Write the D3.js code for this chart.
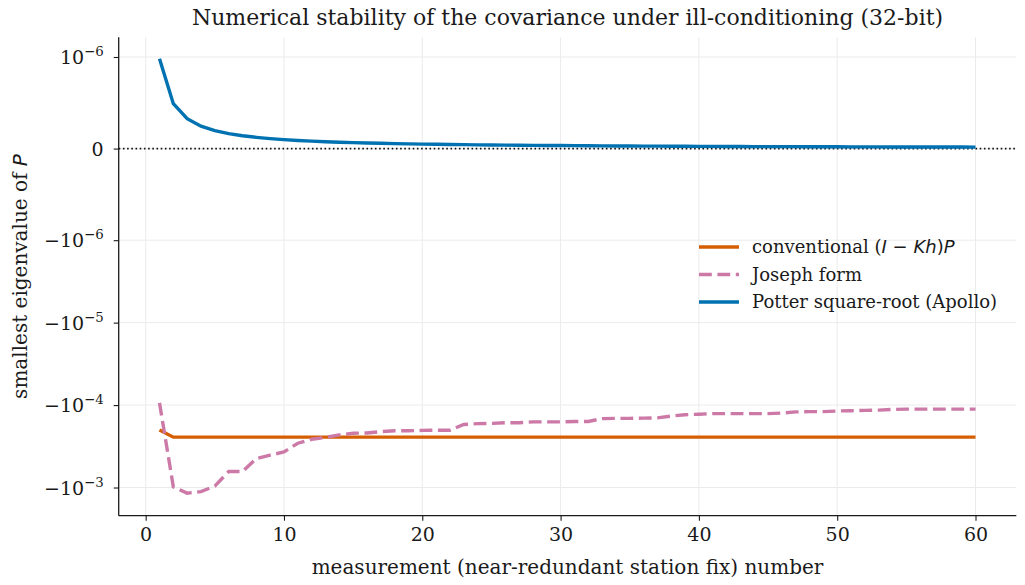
<!DOCTYPE html>
<html><head><meta charset="utf-8">
<script src="https://cdn.jsdelivr.net/npm/d3@7"></script>
<style>body{margin:0;background:#fff}svg{display:block}text{font-family:"DejaVu Serif",serif;fill:#1a1a1a}</style>
</head><body><svg id="c" width="1025" height="585"></svg>
<script>
const measurements = d3.range(1, 61);
const conventional = [-2.0e-4].concat(Array(59).fill(-2.45e-4));
const joseph = [-9.4e-5,-9.8e-4,-1.17e-3,-1.12e-3,-9.6e-4,-6.4e-4,-6.4e-4,-4.45e-4,-4.05e-4,-3.7e-4,
 -2.9e-4,-2.6e-4,-2.47e-4,-2.3e-4,-2.2e-4,-2.18e-4,-2.1e-4,-2.05e-4,-2.05e-4,-2.03e-4,
 -2.02e-4,-2.02e-4,-1.72e-4,-1.68e-4,-1.67e-4,-1.64e-4,-1.64e-4,-1.6e-4,-1.6e-4,-1.6e-4,
 -1.58e-4,-1.58e-4,-1.46e-4,-1.45e-4,-1.45e-4,-1.44e-4,-1.43e-4,-1.36e-4,-1.31e-4,-1.29e-4,
 -1.27e-4,-1.27e-4,-1.27e-4,-1.27e-4,-1.27e-4,-1.25e-4,-1.21e-4,-1.2e-4,-1.2e-4,-1.18e-4,
 -1.17e-4,-1.16e-4,-1.15e-4,-1.13e-4,-1.12e-4,-1.12e-4,-1.12e-4,-1.12e-4,-1.12e-4,-1.12e-4];
const potter = [9.8e-7,4.9e-7,3.27e-7,2.45e-7,1.96e-7,1.63e-7,1.4e-7,1.23e-7,1.09e-7,9.8e-8,
 8.9e-8,8.2e-8,7.5e-8,7.0e-8,6.5e-8,6.1e-8,5.8e-8,5.4e-8,5.2e-8,4.9e-8,
 4.7e-8,4.5e-8,4.3e-8,4.1e-8,3.9e-8,3.8e-8,3.6e-8,3.5e-8,3.4e-8,3.3e-8,
 3.2e-8,3.1e-8,3.0e-8,2.9e-8,2.8e-8,2.7e-8,2.65e-8,2.6e-8,2.5e-8,2.45e-8,
 2.4e-8,2.3e-8,2.3e-8,2.2e-8,2.2e-8,2.1e-8,2.1e-8,2.0e-8,2.0e-8,1.96e-8,
 1.9e-8,1.9e-8,1.85e-8,1.8e-8,1.8e-8,1.75e-8,1.7e-8,1.7e-8,1.66e-8,1.63e-8];
const xTicks = [0,10,20,30,40,50,60];
const yTicks = [1e-6, 0, -1e-6, -1e-5, -1e-4, -1e-3];
const yTickLabels = [["10","−6"],["0",""],["−10","−6"],["−10","−5"],["−10","−4"],["−10","−3"]];

const linthresh = 1e-6, linscaleAdj = 1/(1-0.1);
function symlog(v){ const a=Math.abs(v)/linthresh; return Math.sign(v)*(a<=1 ? a*linscaleAdj : linscaleAdj+Math.log10(a)); }

const L=118.7, R=1016.3, T=37.3, B=515.7;
const x = d3.scaleLinear().domain([-1.95, 62.95]).range([L, R]);
const yLin = d3.scaleLinear().domain([-4.453, 1.35]).range([B, T]);
const y = v => yLin(symlog(v));

const svg = d3.select("#c");
// grid
svg.append("g").selectAll("line").data(xTicks).join("line")
  .attr("x1",d=>x(d)).attr("x2",d=>x(d)).attr("y1",T).attr("y2",B)
  .attr("stroke","#ebebeb").attr("stroke-width",1);
svg.append("g").selectAll("line").data(yTicks).join("line")
  .attr("x1",L).attr("x2",R).attr("y1",d=>y(d)).attr("y2",d=>y(d))
  .attr("stroke","#ebebeb").attr("stroke-width",1);

// zero line
svg.append("line").attr("x1",L).attr("x2",R).attr("y1",y(0)).attr("y2",y(0))
  .attr("stroke","#111").attr("stroke-width",1.6).attr("stroke-dasharray","1.6,2.6");

const line = vals => d3.line().x((d,i)=>x(measurements[i])).y(d=>y(d))(vals);
svg.append("path").attr("d",line(conventional)).attr("fill","none").attr("stroke","#D55E00").attr("stroke-width",3.4);
svg.append("path").attr("d",line(joseph)).attr("fill","none").attr("stroke","#CC79A7").attr("stroke-width",3.4).attr("stroke-dasharray","12.8,5.6");
svg.append("path").attr("d",line(potter)).attr("fill","none").attr("stroke","#0072B2").attr("stroke-width",3.4);

// axes
const xAxis = svg.append("g").attr("transform",`translate(0,${B})`)
  .call(d3.axisBottom(x).tickValues(xTicks).tickSize(5).tickPadding(7).tickFormat(d3.format("d")));
xAxis.select(".domain").attr("d",`M${L},0H${R}`);
const yAxis = svg.append("g").attr("transform",`translate(${L},0)`)
  .call(d3.axisLeft(yLin).tickValues(yTicks.map(symlog)).tickSize(5).tickPadding(6).tickFormat(""));
yAxis.select(".domain").attr("d",`M0,${T}V${B}`);
[xAxis,yAxis].forEach(g=>{g.selectAll(".domain").attr("stroke","#1a1a1a").attr("stroke-width",1.3);
  g.selectAll(".tick line").attr("stroke","#1a1a1a").attr("stroke-width",1.1);});
xAxis.selectAll("text").attr("font-family","DejaVu Serif").attr("font-size",19).attr("fill","#1a1a1a");
yAxis.selectAll(".tick").each(function(d,i){
  const lab = yTickLabels[i];
  const t = d3.select(this).append("text").attr("x",-15).attr("y",0).attr("dy","0.35em").attr("text-anchor","end")
    .attr("font-size",19).attr("fill","#1a1a1a");
  t.append("tspan").text(lab[0]);
  if(lab[1]) t.append("tspan").attr("font-size",13.3).attr("dy","-0.6em").text(lab[1]);
});

// title & labels
svg.append("text").attr("x",(L+R)/2).attr("y",25).attr("text-anchor","middle").attr("font-size",22).text("Numerical stability of the covariance under ill-conditioning (32-bit)");
svg.append("text").attr("x",(L+R)/2).attr("y",574).attr("text-anchor","middle").attr("font-size",20).text("measurement (near-redundant station fix) number");
const yl = svg.append("text").attr("transform",`translate(27,${(T+B)/2}) rotate(-90)`).attr("text-anchor","middle").attr("font-size",20);
yl.append("tspan").text("smallest eigenvalue of ");
yl.append("tspan").attr("font-family","DejaVu Sans").attr("font-style","italic").text("P");

// legend
const legendItems = [
  {color:"#D55E00", dash:null, parts:[["conventional (",0],["I",1],[" − ",2],["Kh",1],[")",2],["P",1]]},
  {color:"#CC79A7", dash:"12.8,5.6", parts:[["Joseph form",0]]},
  {color:"#0072B2", dash:null, parts:[["Potter square-root (Apollo)",0]]}
];
const lg = svg.append("g");
legendItems.forEach((it,i)=>{
  const yy = 247 + i*27.5;
  lg.append("line").attr("x1",699).attr("x2",739).attr("y1",yy).attr("y2",yy)
    .attr("stroke",it.color).attr("stroke-width",3.4).attr("stroke-dasharray",it.dash);
  const t = lg.append("text").attr("x",752).attr("y",yy).attr("dy","0.35em").attr("font-size",18);
  it.parts.forEach(p=>{
    const s = t.append("tspan").text(p[0]);
    if(p[1]===1) s.attr("font-family","DejaVu Sans").attr("font-style","italic");
    if(p[1]===2) s.attr("font-family","DejaVu Sans");
  });
});
</script></body></html>
